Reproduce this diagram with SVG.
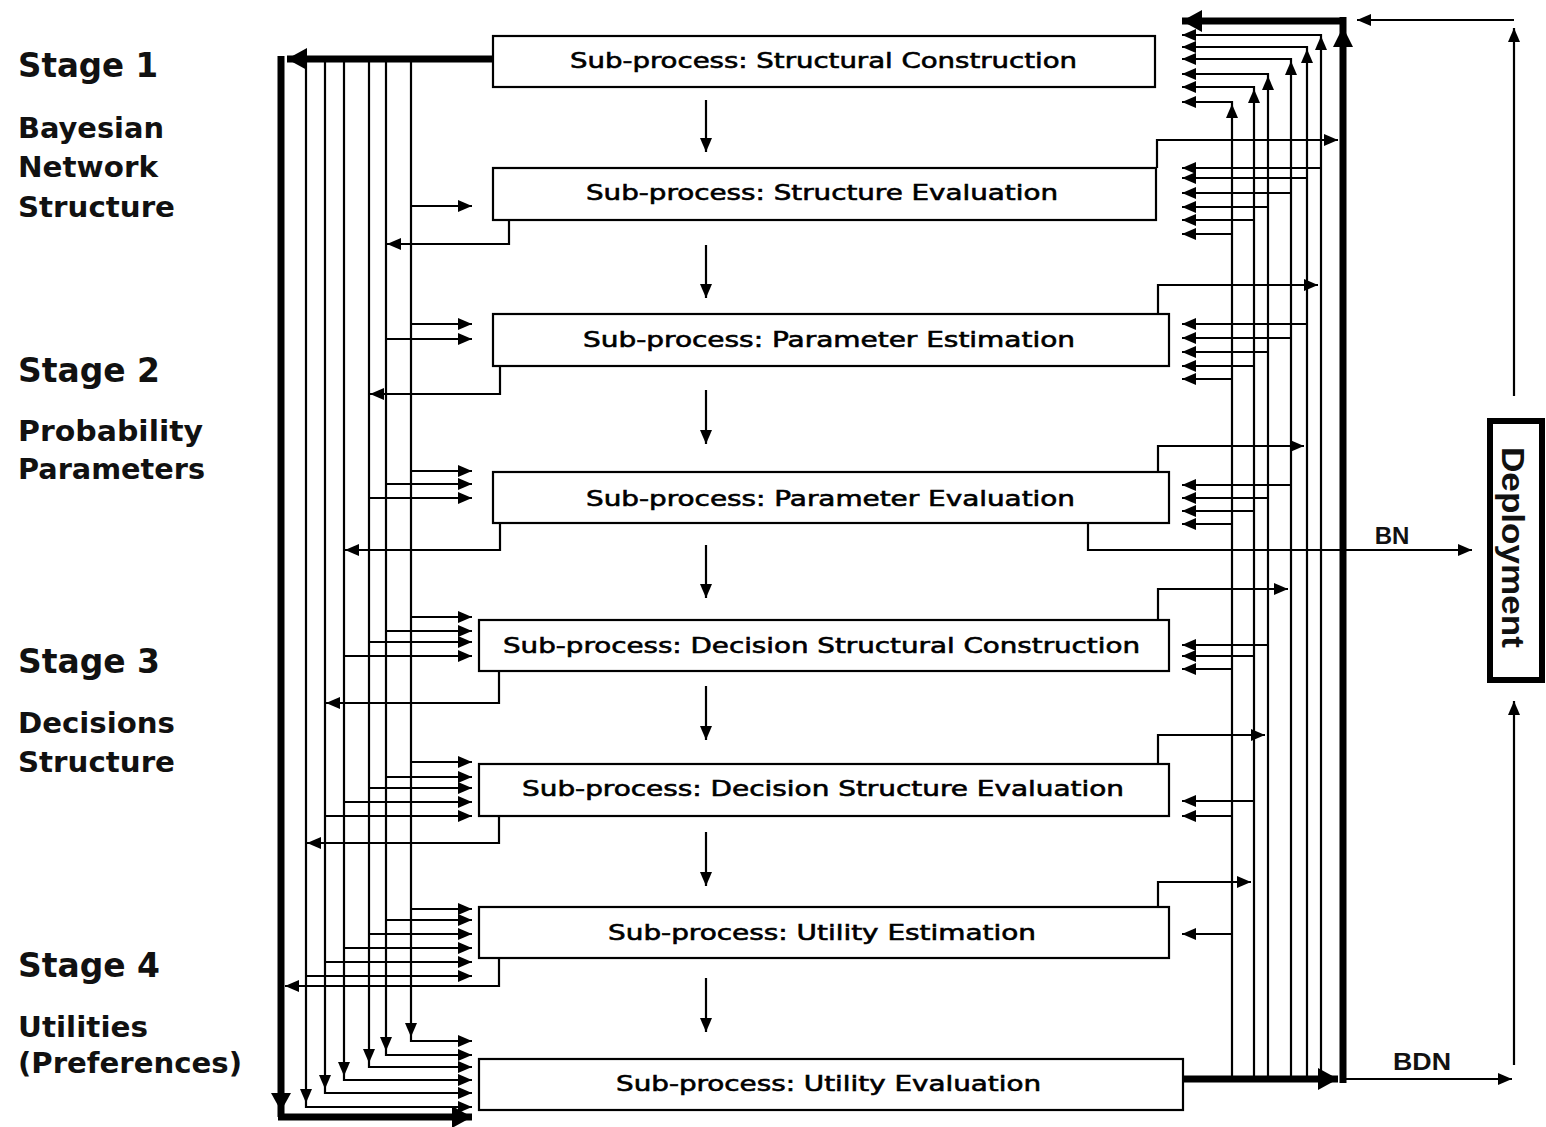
<svg xmlns="http://www.w3.org/2000/svg" xmlns:xlink="http://www.w3.org/1999/xlink" width="1546" height="1127" viewBox="0 0 1546 1127">
  <style>
    .box { fill: #fff; stroke: #000; stroke-width: 2.2; }
    .btxt { font-family: "DejaVu Sans", Verdana, sans-serif; font-size: 21px; fill: #000; stroke: #000; stroke-width: 0.6; }
    .stage { font-family: "DejaVu Sans", Verdana, sans-serif; font-weight: bold; font-size: 33px; fill: #111; }
    .desc { font-family: "DejaVu Sans", Verdana, sans-serif; font-weight: bold; font-size: 29px; fill: #111; }
    .lbl { font-family: "Liberation Sans", Arial, sans-serif; font-weight: bold; font-size: 24px; fill: #111; }
    .thin { fill: none; stroke: #000; stroke-width: 2.2; }
    .arr { fill: none; stroke: #000; stroke-width: 2.2; marker-end: url(#ah); }
    .thick { fill: none; stroke: #000; stroke-width: 7; }
    .thickarr { fill: none; stroke: #000; stroke-width: 7; marker-end: url(#ahT); }
  </style>
  <defs>
    <marker id="ah" markerUnits="userSpaceOnUse" markerWidth="14" markerHeight="12" refX="14" refY="6" orient="auto">
      <path d="M0,0 L14,6 L0,12 z" fill="#000"/>
    </marker>
    <marker id="ahT" markerUnits="userSpaceOnUse" markerWidth="20" markerHeight="22" refX="20" refY="11" orient="auto">
      <path d="M0,0 L20,11 L0,22 z" fill="#000"/>
    </marker>
    <!-- corner arrowheads, tip at the origin -->
    <path id="dn" d="M-6,-14 L6,-14 L0,0 z" fill="#000"/>
    <path id="up" d="M-6,14 L6,14 L0,0 z" fill="#000"/>
    <path id="dnT" d="M-10,-18 L10,-18 L0,0 z" fill="#000"/>
    <path id="upT" d="M-10,20 L10,20 L0,0 z" fill="#000"/>
  </defs>

  <rect width="1546" height="1127" fill="#fff"/>

  <!-- stage labels -->
  <g id="stage-labels">
    <text class="stage" x="18" y="77" textLength="140" lengthAdjust="spacingAndGlyphs">Stage 1</text>
    <text class="desc" x="18" y="138" textLength="146" lengthAdjust="spacingAndGlyphs">Bayesian</text>
    <text class="desc" x="18" y="177" textLength="140" lengthAdjust="spacingAndGlyphs">Network</text>
    <text class="desc" x="18" y="217" textLength="157" lengthAdjust="spacingAndGlyphs">Structure</text>
    <text class="stage" x="18" y="382" textLength="142" lengthAdjust="spacingAndGlyphs">Stage 2</text>
    <text class="desc" x="18" y="441" textLength="185" lengthAdjust="spacingAndGlyphs">Probability</text>
    <text class="desc" x="18" y="479" textLength="187" lengthAdjust="spacingAndGlyphs">Parameters</text>
    <text class="stage" x="18" y="673" textLength="142" lengthAdjust="spacingAndGlyphs">Stage 3</text>
    <text class="desc" x="18" y="733" textLength="157" lengthAdjust="spacingAndGlyphs">Decisions</text>
    <text class="desc" x="18" y="772" textLength="157" lengthAdjust="spacingAndGlyphs">Structure</text>
    <text class="stage" x="18" y="977" textLength="142" lengthAdjust="spacingAndGlyphs">Stage 4</text>
    <text class="desc" x="18" y="1037" textLength="130" lengthAdjust="spacingAndGlyphs">Utilities</text>
    <text class="desc" x="18" y="1073" textLength="224" lengthAdjust="spacingAndGlyphs">(Preferences)</text>
  </g>

  <!-- connectors -->
  <g id="connectors">
    <!-- sequence arrows between sub-processes -->
    <path class="arr" d="M706,100 V152"/>
    <path class="arr" d="M706,245 V298"/>
    <path class="arr" d="M706,390 V444"/>
    <path class="arr" d="M706,545 V598"/>
    <path class="arr" d="M706,686 V740"/>
    <path class="arr" d="M706,832 V886"/>
    <path class="arr" d="M706,978 V1032"/>

    <!-- left feedback bus -->
    <path class="thickarr" d="M493,59 H287"/>
    <path class="thick" d="M281,56 V1117"/>
    <path class="thickarr" d="M278,1117 H472"/>
    <use xlink:href="#dnT" x="281" y="1111"/>

    <path class="arr" d="M411,62 V1041 H472"/>
    <path class="arr" d="M386,62 V1055 H472"/>
    <path class="arr" d="M369,62 V1067 H472"/>
    <path class="arr" d="M344,62 V1080 H472"/>
    <path class="arr" d="M325,62 V1093 H472"/>
    <path class="arr" d="M306,62 V1107 H472"/>
    <use xlink:href="#dn" x="411" y="1037"/>
    <use xlink:href="#dn" x="386" y="1051"/>
    <use xlink:href="#dn" x="369" y="1063"/>
    <use xlink:href="#dn" x="344" y="1076"/>
    <use xlink:href="#dn" x="325" y="1089"/>
    <use xlink:href="#dn" x="306" y="1103"/>

    <!-- left feeds into sub-processes -->
    <path class="arr" d="M411,206 H472"/>
    <path class="arr" d="M411,324 H472"/>
    <path class="arr" d="M386,339 H472"/>
    <path class="arr" d="M411,471 H472"/>
    <path class="arr" d="M386,484 H472"/>
    <path class="arr" d="M369,498 H472"/>
    <path class="arr" d="M411,617 H472"/>
    <path class="arr" d="M386,631 H472"/>
    <path class="arr" d="M369,642 H472"/>
    <path class="arr" d="M344,656 H472"/>
    <path class="arr" d="M411,762 H472"/>
    <path class="arr" d="M386,777 H472"/>
    <path class="arr" d="M369,788 H472"/>
    <path class="arr" d="M344,802 H472"/>
    <path class="arr" d="M325,816 H472"/>
    <path class="arr" d="M411,909 H472"/>
    <path class="arr" d="M386,920 H472"/>
    <path class="arr" d="M369,934 H472"/>
    <path class="arr" d="M344,948 H472"/>
    <path class="arr" d="M325,962 H472"/>
    <path class="arr" d="M306,976 H472"/>

    <!-- left returns from sub-processes -->
    <path class="arr" d="M509,220 V244 H387"/>
    <path class="arr" d="M500,366 V394 H370"/>
    <path class="arr" d="M500,523 V550 H345"/>
    <path class="arr" d="M499,671 V703 H326"/>
    <path class="arr" d="M499,816 V843 H307"/>
    <path class="arr" d="M499,958 V986 H285"/>

    <!-- right feedback bus -->
    <path class="thick" d="M1343,1083 V17"/>
    <path class="thickarr" d="M1346,21 H1182"/>
    <use xlink:href="#upT" x="1343" y="27"/>
    <path class="thickarr" d="M1183,1079 H1338"/>

    <path class="arr" d="M1321,1079 V35 H1182"/>
    <path class="arr" d="M1307,1079 V47 H1182"/>
    <path class="arr" d="M1291,1079 V59 H1182"/>
    <path class="arr" d="M1268,1079 V74 H1182"/>
    <path class="arr" d="M1254,1079 V87 H1182"/>
    <path class="arr" d="M1232,1079 V102 H1182"/>
    <use xlink:href="#up" x="1321" y="36"/>
    <use xlink:href="#up" x="1307" y="49"/>
    <use xlink:href="#up" x="1291" y="61"/>
    <use xlink:href="#up" x="1268" y="76"/>
    <use xlink:href="#up" x="1254" y="89"/>
    <use xlink:href="#up" x="1232" y="104"/>

    <!-- right feeds into sub-processes -->
    <path class="arr" d="M1321,168 H1182"/>
    <path class="arr" d="M1307,178 H1182"/>
    <path class="arr" d="M1291,193 H1182"/>
    <path class="arr" d="M1268,207 H1182"/>
    <path class="arr" d="M1254,220 H1182"/>
    <path class="arr" d="M1232,234 H1182"/>
    <path class="arr" d="M1307,324 H1182"/>
    <path class="arr" d="M1291,338 H1182"/>
    <path class="arr" d="M1268,352 H1182"/>
    <path class="arr" d="M1254,366 H1182"/>
    <path class="arr" d="M1232,379 H1182"/>
    <path class="arr" d="M1291,485 H1182"/>
    <path class="arr" d="M1268,498 H1182"/>
    <path class="arr" d="M1254,511 H1182"/>
    <path class="arr" d="M1232,524 H1182"/>
    <path class="arr" d="M1268,645 H1182"/>
    <path class="arr" d="M1254,656 H1182"/>
    <path class="arr" d="M1232,669 H1182"/>
    <path class="arr" d="M1254,801 H1182"/>
    <path class="arr" d="M1232,816 H1182"/>
    <path class="arr" d="M1232,934 H1182"/>

    <!-- right outputs from sub-processes -->
    <path class="arr" d="M1157,168 V140 H1338"/>
    <path class="arr" d="M1158,313 V285 H1318"/>
    <path class="arr" d="M1158,472 V446 H1304"/>
    <path class="arr" d="M1158,619 V589 H1288"/>
    <path class="arr" d="M1158,763 V735 H1265"/>
    <path class="arr" d="M1158,907 V882 H1251"/>

    <!-- deliverables to deployment -->
    <path class="arr" d="M1088,523 V550 H1472"/>
    <path class="arr" d="M1343,1079 H1512"/>
    <path class="arr" d="M1514,1065 V701"/>
    <path class="arr" d="M1514,396 V28"/>
    <path class="arr" d="M1514,20 H1357"/>
  </g>

  <g id="edge-labels">
    <text class="lbl" x="1392" y="544" text-anchor="middle">BN</text>
    <text class="lbl" x="1422" y="1070" text-anchor="middle" textLength="58" lengthAdjust="spacingAndGlyphs">BDN</text>
  </g>

  <!-- sub-process nodes -->
  <g id="structural-construction">
    <rect class="box" x="493" y="36" width="662" height="51"/>
    <text class="btxt" x="570" y="68" textLength="507" lengthAdjust="spacingAndGlyphs">Sub-process:  Structural  Construction</text>
  </g>
  <g id="structure-evaluation">
    <rect class="box" x="493" y="168" width="663" height="52"/>
    <text class="btxt" x="586" y="200" textLength="472" lengthAdjust="spacingAndGlyphs">Sub-process:  Structure  Evaluation</text>
  </g>
  <g id="parameter-estimation">
    <rect class="box" x="493" y="314" width="676" height="52"/>
    <text class="btxt" x="583" y="347" textLength="492" lengthAdjust="spacingAndGlyphs">Sub-process:  Parameter Estimation</text>
  </g>
  <g id="parameter-evaluation">
    <rect class="box" x="493" y="472" width="676" height="51"/>
    <text class="btxt" x="586" y="506" textLength="489" lengthAdjust="spacingAndGlyphs">Sub-process:  Parameter Evaluation</text>
  </g>
  <g id="decision-structural-construction">
    <rect class="box" x="479" y="620" width="690" height="51"/>
    <text class="btxt" x="503" y="653" textLength="637" lengthAdjust="spacingAndGlyphs">Sub-process:  Decision Structural  Construction</text>
  </g>
  <g id="decision-structure-evaluation">
    <rect class="box" x="479" y="764" width="690" height="52"/>
    <text class="btxt" x="522" y="796" textLength="602" lengthAdjust="spacingAndGlyphs">Sub-process:  Decision Structure  Evaluation</text>
  </g>
  <g id="utility-estimation">
    <rect class="box" x="479" y="907" width="690" height="51"/>
    <text class="btxt" x="608" y="940" textLength="428" lengthAdjust="spacingAndGlyphs">Sub-process:  Utility Estimation</text>
  </g>
  <g id="utility-evaluation">
    <rect class="box" x="479" y="1059" width="704" height="51"/>
    <text class="btxt" x="616" y="1091" textLength="425" lengthAdjust="spacingAndGlyphs">Sub-process:  Utility Evaluation</text>
  </g>

  <g id="deployment">
    <rect x="1490" y="421" width="52" height="259" fill="#fff" stroke="#000" stroke-width="6"/>
    <text class="lbl" transform="translate(1502,447) rotate(90)" textLength="201" lengthAdjust="spacingAndGlyphs" style="font-size:32px">Deployment</text>
  </g>
</svg>
